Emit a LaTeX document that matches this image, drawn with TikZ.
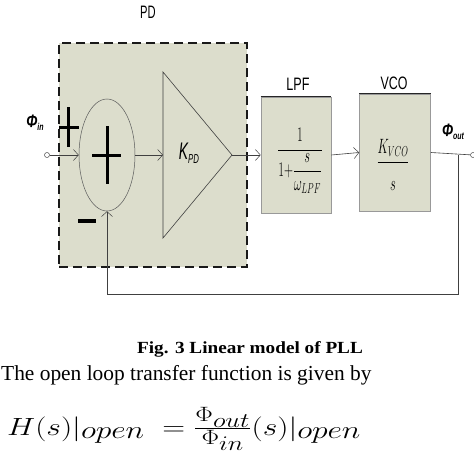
\documentclass[tikz,border=0pt]{standalone}
\usepackage{amsmath}
\usepackage{fontspec}
\usepackage{graphicx}
\setmainfont{Liberation Serif}
\newfontfamily\labelfont{Liberation Sans}
\usetikzlibrary{arrows.meta,shapes.geometric}
\definecolor{pdfill}{RGB}{220,221,204}
\begin{document}
\begin{tikzpicture}[x=1pt,y=-1pt,
  chev/.style={-{Straight Barb[length=5pt,width=11pt,line width=0.5pt]}},
  wire/.style={draw=black!75,line width=0.6pt},
  blk/.style={fill=pdfill,draw=black!40,line width=0.6pt,inner sep=0},
  toplab/.style={font=\labelfont\fontsize{18}{18}\selectfont, inner sep=0},
  bar/.style={line width=3pt,line cap=butt},
]
\useasboundingbox (0,0) rectangle (474,455);
\fill[white] (0,0) rectangle (474,455);
% PD dashed box
\node (pdbox) [fill=pdfill, draw=black!90, line width=2.3pt, dash pattern=on 9pt off 5pt,
  minimum width=188pt, minimum height=224pt, inner sep=0] at (153,155) {};
\node[toplab] (pdlab) at (148,12) {\scalebox{0.62}[1]{PD}};
% summer
\node (sum) [ellipse, draw=black!65, line width=0.5pt, minimum width=56pt, minimum height=112pt, inner sep=0] at (107,155) {};
\draw[bar] (92,155) -- (121,155);
\draw[bar] (107,126) -- (107,184);
% small plus and minus signs
\draw[bar] (59,127) -- (79,127);
\draw[bar] (68,107) -- (68,147);
\draw[line width=3.5pt] (78,221) -- (96,221);
% input
\node (in) [circle, draw=black!70, line width=0.5pt, minimum size=5pt, inner sep=0] at (47,155) {};
\node (philab) [inner sep=0] at (35,123) {\labelfont\bfseries\itshape\fontsize{18}{18}\selectfont\scalebox{0.75}[1]{Φ}\raisebox{-3pt}{\fontsize{10}{10}\selectfont\scalebox{0.7}[1]{in}}};
\draw[wire,chev] (in) -- (sum.west);
% amplifier
\coordinate (ta) at (163,72);
\coordinate (tb) at (163,238);
\coordinate (tc) at (232,155);
\coordinate (tin) at (163,155);
\draw[draw=black!75,line width=0.6pt] (ta) -- (tc) -- (tb) -- cycle;
\node (kpd) [inner sep=0] at (189,153) {\labelfont\itshape\fontsize{24}{24}\selectfont\scalebox{0.58}[1]{K}\raisebox{-4pt}{\fontsize{13}{13}\selectfont\scalebox{0.6}[1]{PD}}};
\draw[wire,chev] (sum.east) -- (tin);
% LPF
\node (lpf) [blk, minimum width=70pt, minimum height=116pt] at (296,155) {};
\draw[line width=1.4pt,black!85] (lpf.north west) -- (lpf.north east);
\node (lpftf) [inner sep=0] at (300,161) {\fontsize{22}{22}\selectfont\scalebox{0.6}[1]{$\dfrac{1}{1{+}\dfrac{s}{\omega_{LPF}}}$}};
\node[toplab] (lpflab) at (298,84) {\scalebox{0.7}[1]{LPF}};
\draw[wire,chev] (tc) -- (lpf.west);
% VCO
\node (vco) [blk, minimum width=71pt, minimum height=117pt] at (395,152.5) {};
\draw[line width=1.4pt,black!85] (vco.north west) -- (vco.north east);
\node (vcotf) [inner sep=0] at (393,165) {\fontsize{20}{20}\selectfont\scalebox{0.6}[1]{$\dfrac{K_{VCO}}{\raisebox{-9pt}{$s$}}$}};
\node[toplab] (vcolab) at (394,83) {\scalebox{0.69}[1]{VCO}};
\draw[wire,chev] (lpf.east) -- (vco.west);
% output
\node (out) [circle, draw=black!70, line width=0.5pt, minimum size=5pt, inner sep=0] at (473,155) {};
\node (philabo) [inner sep=0] at (453,132) {\labelfont\bfseries\itshape\fontsize{18}{18}\selectfont\scalebox{0.75}[1]{Φ}\raisebox{-3pt}{\fontsize{10}{10}\selectfont\scalebox{0.7}[1]{out}}};
\draw[wire] (vco.east) -- (out);
% feedback
\coordinate (fb) at (458,155);
\coordinate (fbc) at (458,294);
\draw[wire,chev] (fb) -- (fbc) -| (sum.south);
% caption and text
\node[anchor=base, inner sep=0] (cap) at (250,353) {\fontsize{17}{17}\selectfont\bfseries\scalebox{1.13}[1]{Fig. 3 Linear model of PLL}};
\node[anchor=base west, inner sep=0] (txt) at (1,380) {\fontsize{21.4}{21.4}\selectfont The open loop transfer function is given by};
\node[anchor=base west, inner sep=0] (eq) at (7,435) {\fontsize{32}{32}\selectfont\scalebox{1.27}[1]{$H(s)|_{\textstyle open}\;=\frac{\Phi_{\scriptstyle out}}{\Phi_{\scriptstyle in}}(s)|_{\textstyle open}$}};
\end{tikzpicture}
\end{document}
